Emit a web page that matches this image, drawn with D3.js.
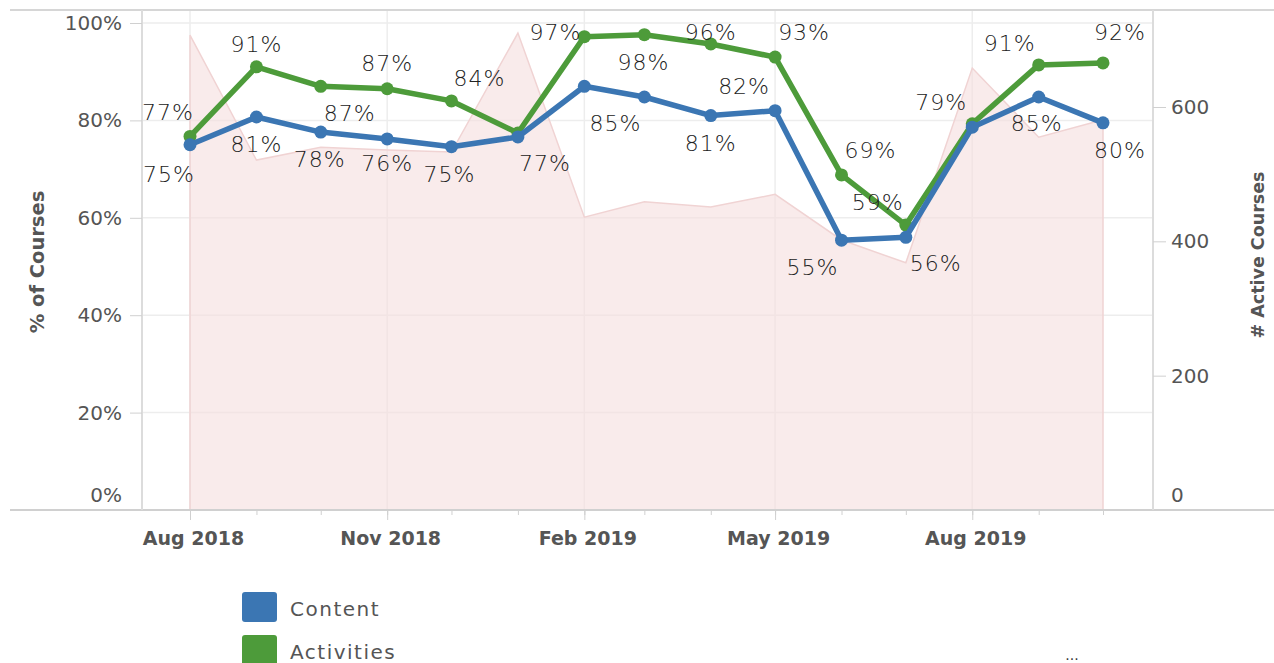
<!DOCTYPE html>
<html>
<head>
<meta charset="utf-8">
<script src="https://cdn.jsdelivr.net/npm/d3@7"></script>
<style>
  body { margin: 0; background: #fff; }
  svg { display: block; font-family: "DejaVu Sans", sans-serif; }
  .tick line { stroke: #d0d0d0; }
  .domain { display: none; }
</style>
</head>
<body>
<svg id="chart" width="1274" height="663"></svg>
<script>
"use strict";

// months shown, Aug 2018 .. Oct 2019
var months = ["2018-08", "2018-09", "2018-10", "2018-11", "2018-12", "2019-01", "2019-02",
              "2019-03", "2019-04", "2019-05", "2019-06", "2019-07", "2019-08", "2019-09", "2019-10"];
var content    = [0.750, 0.807, 0.776, 0.762, 0.746, 0.766, 0.870, 0.848, 0.810, 0.820, 0.554, 0.560, 0.786, 0.848, 0.795];
var activities = [0.767, 0.910, 0.870, 0.865, 0.840, 0.774, 0.972, 0.976, 0.957, 0.930, 0.688, 0.585, 0.793, 0.914, 0.918];
var activeCourses = [707, 521, 540, 536, 533, 710, 436, 459, 451, 470, 402, 368, 658, 555, 581];
var pctTicks = [0, 0.2, 0.4, 0.6, 0.8, 1];
var countTicks = [0, 200, 400, 600];

// where each value label sits relative to its point (null = hidden)
var contentLabelPos = [[-21, 29], [0, 27], [-1, 27], [0, 24], [-2, 27], [27, 26], null, [-29, 26],
                       [0, 28], [-31, -25], [-29, 27], [30, 26], null, [-2, 26], [17, 27]];
var activityLabelPos = [[-22, -24], [0, -23], [29, 27], [0, -26], [28, -23], null, [-29, -5], [-1, 27],
                        [0, -12], [29, -25], [29, -25], [-28, -23], [-31, -22], [-29, -22], [17, -31]];

var blue = "#3b76b3";
var green = "#4d9b3a";

var parse = d3.timeParse("%Y-%m");
var dates = months.map(parse);
// quarter ticks start from the first month
var quarters = dates.filter(function(d, i) { return i % 3 === 0; });

var svg = d3.select("#chart");
var plotLeft = 142, plotRight = 1153, plotTop = 10, plotBottom = 510;

var x = d3.scaleTime()
    .domain([dates[0], dates[dates.length - 1]])
    .range([190, 1103]);
var yL = d3.scaleLinear().domain([0, 1]).range([plotBottom, 23]);
var yR = d3.scaleLinear().domain([0, 600]).range([plotBottom, 107]);

// gridlines
svg.append("g")
    .selectAll("line")
    .data(pctTicks.slice(1))
    .enter()
    .append("line")
    .attr("x1", plotLeft).attr("x2", plotRight)
    .attr("y1", function(d) { return yL(d); })
    .attr("y2", function(d) { return yL(d); })
    .attr("stroke", "#ededed")
    .attr("stroke-width", 1.5);

svg.append("g")
    .selectAll("line")
    .data(quarters)
    .enter()
    .append("line")
    .attr("x1", function(d) { return x(d); })
    .attr("x2", function(d) { return x(d); })
    .attr("y1", plotTop).attr("y2", plotBottom)
    .attr("stroke", "#ededed")
    .attr("stroke-width", 1.5);

// active courses area
var area = d3.area()
    .x(function(d, i) { return x(dates[i]); })
    .y0(yR(0))
    .y1(function(d) { return yR(d); });

svg.append("path")
    .datum(activeCourses)
    .attr("d", area)
    .attr("fill", "#f5dede")
    .attr("fill-opacity", 0.6)
    .attr("stroke", "#f0d3d3")
    .attr("stroke-width", 1.5);

// frame
svg.append("line").attr("x1", 10).attr("x2", 1274).attr("y1", plotTop).attr("y2", plotTop)
    .attr("stroke", "#d6d6d6").attr("stroke-width", 2);
svg.append("line").attr("x1", 10).attr("x2", 1274).attr("y1", plotBottom).attr("y2", plotBottom)
    .attr("stroke", "#d0d0d0").attr("stroke-width", 2);
svg.append("line").attr("x1", plotLeft).attr("x2", plotLeft).attr("y1", plotTop).attr("y2", plotBottom)
    .attr("stroke", "#dcdcdc").attr("stroke-width", 2);
svg.append("line").attr("x1", plotRight).attr("x2", plotRight).attr("y1", plotTop).attr("y2", plotBottom)
    .attr("stroke", "#dcdcdc").attr("stroke-width", 2);

// axes
var axisL = svg.append("g")
    .attr("transform", "translate(" + plotLeft + ",0)")
    .call(d3.axisLeft(yL).tickValues(pctTicks).tickFormat(d3.format(".0%")).tickSize(12).tickPadding(8));
axisL.selectAll("text")
    .attr("font-size", 20)
    .attr("fill", "#555")
    .attr("font-family", "DejaVu Sans")
    .attr("dy", function(d) { return d === 0 ? "-0.45em" : "0.32em"; });
axisL.selectAll(".tick").filter(function(d) { return d === 0; }).select("line").remove();

var axisR = svg.append("g")
    .attr("transform", "translate(" + plotRight + ",0)")
    .call(d3.axisRight(yR).tickValues(countTicks).tickSize(13).tickPadding(5));
axisR.selectAll("text")
    .attr("font-size", 20)
    .attr("fill", "#555")
    .attr("font-family", "DejaVu Sans")
    .attr("dy", function(d) { return d === 0 ? "-0.45em" : "0.32em"; });
axisR.selectAll(".tick").filter(function(d) { return d === 0; }).select("line").remove();

svg.append("g")
    .attr("transform", "translate(0," + plotBottom + ")")
    .call(d3.axisBottom(x).tickValues(dates).tickSize(5).tickFormat(""));

var axisB = svg.append("g")
    .attr("transform", "translate(0," + plotBottom + ")")
    .call(d3.axisBottom(x).tickValues(quarters).tickSize(10).tickPadding(12)
          .tickFormat(d3.timeFormat("%b %Y")));
axisB.selectAll("text")
    .attr("font-size", 19)
    .attr("font-weight", "bold")
    .attr("fill", "#555")
    .attr("font-family", "DejaVu Sans")
    .attr("dx", 3);

// axis titles
svg.append("text")
    .attr("transform", "translate(44,262) rotate(-90)")
    .attr("text-anchor", "middle")
    .attr("font-size", 19.5)
    .attr("font-weight", "bold")
    .attr("fill", "#555")
    .text("% of Courses");

svg.append("text")
    .attr("transform", "translate(1264,255) rotate(-90)")
    .attr("text-anchor", "middle")
    .attr("font-size", 17.5)
    .attr("font-weight", "bold")
    .attr("fill", "#555")
    .text("# Active Courses");

// lines, dots and labels
function drawSeries(values, color, labelPos) {
    var line = d3.line()
        .x(function(d, i) { return x(dates[i]); })
        .y(function(d) { return yL(d); });

    svg.append("path")
        .datum(values)
        .attr("d", line)
        .attr("fill", "none")
        .attr("stroke", color)
        .attr("stroke-width", 5.5)
        .attr("stroke-linejoin", "round");

    svg.append("g")
        .selectAll("circle")
        .data(values)
        .enter()
        .append("circle")
        .attr("cx", function(d, i) { return x(dates[i]); })
        .attr("cy", function(d) { return yL(d); })
        .attr("r", 6.5)
        .attr("fill", color);

    svg.append("g")
        .selectAll("text")
        .data(values.map(function(v, i) { return { v: v, i: i, p: labelPos[i] }; })
                    .filter(function(d) { return d.p; }))
        .enter()
        .append("text")
        .attr("x", function(d) { return x(dates[d.i]) + d.p[0]; })
        .attr("y", function(d) { return yL(d.v) + d.p[1]; })
        .attr("dy", "0.36em")
        .attr("text-anchor", "middle")
        .attr("font-size", 22)
        .attr("font-weight", 300)
        .attr("letter-spacing", 1)
        .attr("fill", "#222")
        .text(function(d) { return d3.format(".0%")(d.v); });
}

drawSeries(activities, green, activityLabelPos);
drawSeries(content, blue, contentLabelPos);

// legend
var legend = [{ name: "Content", color: blue }, { name: "Activities", color: green }];
var lg = svg.append("g")
    .selectAll("g")
    .data(legend)
    .enter()
    .append("g")
    .attr("transform", function(d, i) { return "translate(242," + (592 + i * 43) + ")"; });
lg.append("rect")
    .attr("width", 35).attr("height", 30).attr("rx", 3)
    .attr("fill", function(d) { return d.color; });
lg.append("text")
    .attr("x", 48).attr("y", 17)
    .attr("dy", "0.35em")
    .attr("font-size", 20)
    .attr("letter-spacing", 1.5)
    .attr("fill", "#555")
    .text(function(d) { return d.name; });

svg.append("text")
    .attr("x", 1072).attr("y", 660)
    .attr("text-anchor", "middle")
    .attr("font-size", 14)
    .attr("fill", "#333")
    .text("...");
</script>
</body>
</html>
